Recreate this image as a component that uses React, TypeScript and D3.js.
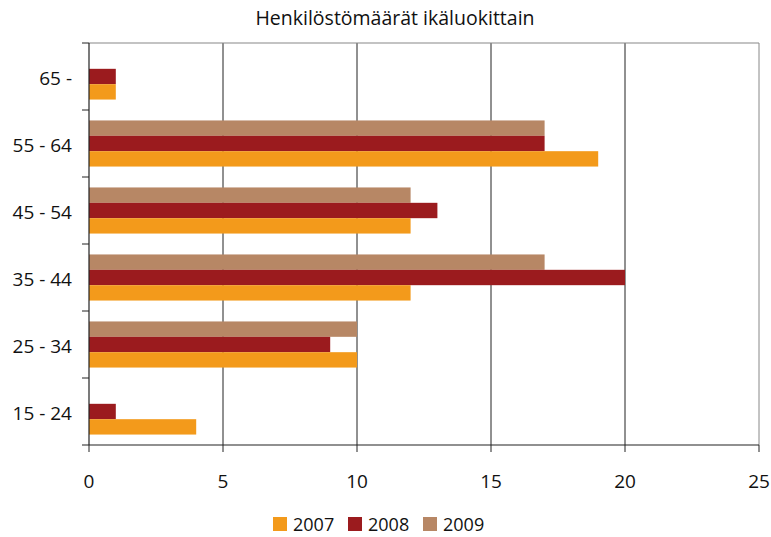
import * as d3 from 'd3';

const categories = ['65 -', '55 - 64', '45 - 54', '35 - 44', '25 - 34', '15 - 24'];
const years = ['2009', '2008', '2007'];
const values2007 = [1, 19, 12, 12, 10, 4];
const values2008 = [1, 17, 13, 20, 9, 1];
const values2009 = [0, 17, 12, 17, 10, 0];
const xTicks = [0, 5, 10, 15, 20, 25];
const legendYears = ['2007', '2008', '2009'];

const COLORS: Record<string, string> = {
  '2007': '#F39A1B',
  '2008': '#9B1B1E',
  '2009': '#B78765',
};

const FONT = '"Open Sans", Calibri, sans-serif';

export default function App() {
  const width = 771;
  const height = 537;
  const left = 89;
  const right = 759;
  const top = 43;
  const bottom = 445;

  const series: Record<string, number[]> = {
    '2007': values2007,
    '2008': values2008,
    '2009': values2009,
  };

  const x = d3.scaleLinear().domain([0, 25]).range([left, right]);
  const y = d3.scaleBand<string>().domain(categories).range([top, bottom]);
  const inner = d3
    .scaleBand<string>()
    .domain(years)
    .range([0, y.bandwidth()])
    .paddingOuter(0.68)
    .paddingInner(0);

  const legendX = d3.scalePoint<string>().domain(legendYears).range([273, 423]);

  return (
    <svg
      width={width}
      height={height}
      style={{ position: 'absolute', left: 0, top: 0, background: '#fff' }}
      fontFamily={FONT}
    >
      <text x={395} y={25} textAnchor="middle" fontSize={19.5} fill="#111">
        Henkilöstömäärät ikäluokittain
      </text>

      {/* gridlines */}
      {xTicks.slice(1).map((t) => (
        <line key={t} x1={x(t)} x2={x(t)} y1={top} y2={bottom} stroke={t === 25 ? '#888' : '#222'} strokeWidth={1} />
      ))}
      <line x1={left} x2={right} y1={top} y2={top} stroke="#888" strokeWidth={1.2} />

      {/* bars */}
      {categories.map((c, i) => (
        <g key={c}>
          {years.map((yr) => {
            const v = series[yr][i];
            if (!v) return null;
            return (
              <rect
                key={yr}
                x={x(0)}
                y={(y(c) ?? 0) + (inner(yr) ?? 0)}
                width={x(v) - x(0)}
                height={inner.bandwidth()}
                fill={COLORS[yr]}
              />
            );
          })}
        </g>
      ))}

      {/* axes */}
      <line x1={left} x2={left} y1={top} y2={bottom} stroke="#222" strokeWidth={1.2} />
      <line x1={left - 7} x2={right} y1={bottom} y2={bottom} stroke="#222" strokeWidth={1.2} />
      {categories.map((c) => (
        <line key={c} x1={left - 7} x2={left} y1={y(c)} y2={y(c)} stroke="#222" />
      ))}
      {xTicks.map((t) => (
        <line key={t} x1={x(t)} x2={x(t)} y1={bottom} y2={bottom + 7} stroke="#222" />
      ))}
      {categories.map((c) => (
        <text
          key={c}
          x={left - 17}
          y={(y(c) ?? 0) + y.bandwidth() / 2 + 1}
          textAnchor="end"
          dominantBaseline="central"
          fontSize={19}
          fill="#111"
        >
          {c}
        </text>
      ))}
      {xTicks.map((t) => (
        <text key={t} x={x(t)} y={481} textAnchor="middle" dominantBaseline="central" fontSize={19} fill="#111">
          {t}
        </text>
      ))}

      {/* legend */}
      {legendYears.map((yr) => (
        <g key={yr} transform={`translate(${legendX(yr)},524)`}>
          <rect x={0} y={-7} width={14} height={14} fill={COLORS[yr]} />
          <text x={20} y={0} dominantBaseline="central" fontSize={18} fill="#111">
            {yr}
          </text>
        </g>
      ))}
    </svg>
  );
}
